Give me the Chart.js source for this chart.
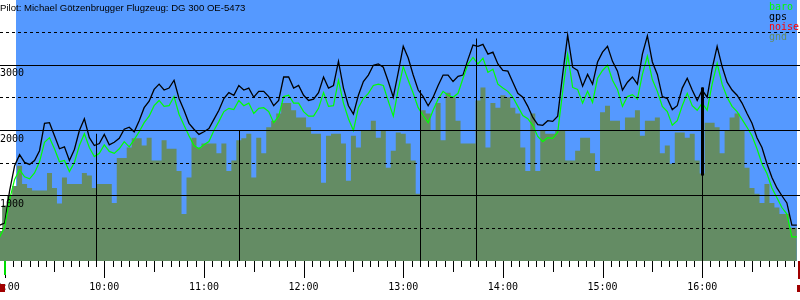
<!DOCTYPE html>
<html>
<head>
<meta charset="utf-8">
<script src="https://cdn.jsdelivr.net/npm/chart.js@4.4.0/dist/chart.umd.min.js"></script>
<style>
html, body { margin: 0; padding: 0; background: #fff; }
#wrap { width: 800px; height: 300px; }
</style>
</head>
<body>
<div id="wrap"><canvas id="flight" width="800" height="300"></canvas></div>
<script>
const title = 'Pilot: Michael Götzenbrugger Flugzeug: DG 300 OE-5473';

// one sample every 3 minutes, first one at 08:57
const sampleStart = '08:57';
const sampleStep = 3;

const gpsAlt = [
    550, 580, 1080, 1460, 1630, 1510, 1480, 1540, 1690, 2110,
    2120, 1920, 1720, 1750, 1540, 1710, 2000, 2180, 1890, 1770,
    1800, 1940, 1780, 1820, 1880, 2020, 2050, 1980, 2150, 2350,
    2450, 2630, 2710, 2620, 2650, 2770, 2490, 2310, 2110, 2020,
    1940, 1980, 2030, 2170, 2310, 2490, 2580, 2540, 2690, 2620,
    2650, 2510, 2600, 2600, 2520, 2380, 2460, 2820, 2820, 2650,
    2690, 2540, 2460, 2480, 2580, 2820, 2650, 2690, 3060, 2650,
    2380, 2250, 2540, 2750, 2850, 3000, 3020, 2970, 2750, 2510,
    2890, 3290, 3110, 2850, 2620, 2520, 2380, 2510, 2690, 2850,
    2850, 2750, 2830, 2850, 3090, 3310, 3290, 3320, 3170, 3200,
    3020, 2920, 2910, 2740, 2570, 2510, 2370, 2200, 2090, 2080,
    2150, 2140, 2220, 2860, 3460, 2970, 2920, 2680, 2860, 2710,
    3050, 3200, 3290, 3060, 2910, 2620, 2740, 2820, 2710, 3170,
    3450, 3050, 2860, 2520, 2490, 2320, 2380, 2650, 2800, 2620,
    2460, 2620, 2510, 2950, 3290, 2980, 2740, 2620, 2540, 2420,
    2260, 2110, 1890, 1740, 1490, 1280, 1120, 1000, 890, 550,
    550
];

const baroAlt = [
    370, 520, 940, 1250, 1400, 1290, 1260, 1350, 1520, 1820,
    1890, 1720, 1520, 1540, 1370, 1510, 1770, 1950, 1740, 1600,
    1650, 1780, 1680, 1650, 1720, 1830, 1750, 1860, 1980, 2120,
    2220, 2380, 2460, 2370, 2380, 2520, 2250, 2080, 1920, 1770,
    1720, 1780, 1830, 2000, 2140, 2290, 2340, 2320, 2460, 2380,
    2420, 2260, 2340, 2350, 2290, 2120, 2220, 2520, 2540, 2420,
    2420, 2290, 2220, 2220, 2340, 2580, 2370, 2380, 2770, 2420,
    2180, 2000, 2350, 2490, 2570, 2690, 2710, 2690, 2450, 2220,
    2630, 2980, 2770, 2570, 2350, 2230, 2120, 2310, 2480, 2600,
    2540, 2510, 2570, 2800, 3020, 3120, 3020, 3110, 2890, 2940,
    2710, 2650, 2600, 2510, 2370, 2230, 2180, 2080, 1910, 1830,
    1890, 1880, 1970, 2600, 3170, 2660, 2630, 2420, 2600, 2430,
    2800, 2920, 3000, 2770, 2630, 2370, 2520, 2550, 2480, 2860,
    3140, 2780, 2600, 2370, 2290, 2080, 2150, 2380, 2570, 2380,
    2310, 2420, 2310, 2710, 3030, 2710, 2510, 2370, 2290, 2170,
    2050, 1920, 1720, 1490, 1340, 1120, 970, 820, 720, 370,
    370
];

const gndAlt = [
    460, 850, 1000, 1150, 1460, 1180, 1120, 1080, 1080, 1080,
    1350, 1120, 880, 1280, 1180, 1180, 1180, 1350, 1310, 1120,
    1180, 1180, 1180, 890, 1580, 1580, 1740, 1880, 1880, 1770,
    1890, 1540, 1540, 1850, 1720, 1720, 1380, 720, 1280, 1890,
    1740, 1800, 1800, 1800, 1650, 1800, 1380, 1540, 1850, 1880,
    1950, 1280, 1890, 1650, 2050, 2150, 2260, 2420, 2420, 2310,
    2200, 2200, 2050, 1950, 1950, 1200, 1920, 1950, 1950, 1800,
    1230, 1920, 1740, 2000, 2000, 2150, 1890, 2000, 1430, 1690,
    1970, 1950, 1800, 1540, 1030, 2310, 2260, 2000, 2420, 1850,
    2580, 2510, 2150, 1800, 1800, 1800, 2460, 2660, 1740, 2420,
    2350, 2540, 2510, 2350, 2260, 1740, 1380, 2260, 1380, 2000,
    1950, 1950, 2000, 2000, 1540, 1540, 1690, 1890, 1890, 1650,
    1380, 2280, 2380, 2150, 2150, 2000, 2200, 2200, 2310, 1920,
    2150, 2150, 2200, 1650, 1770, 1490, 1970, 1970, 1890, 1950,
    1540, 1340, 2120, 2120, 2050, 1650, 2000, 2200, 2260, 2000,
    1430, 1120, 1030, 890, 1180, 890, 820, 720, 720, 510,
    510
];

const hourLabels = ['09:00', '10:00', '11:00', '12:00', '13:00', '14:00', '15:00', '16:00'];
const altLabels = [1000, 2000, 3000];

// vertical marks from the trace down to the ground
const markerTimes = ['09:55', '11:21', '13:10', '13:44', '16:00'];
const markerTops = [1950, 2000, 2620, 3410, 2660];
const markerThickTo = [null, null, null, null, 1310];

const skyStart = '09:07';
const skyEnd = '16:57';
const axisStart = 537.2;   // minutes after midnight at the left edge
const axisEnd = 1018.9;

const skyColor = '#5599ff';
const gndColor = '#648c64';

function toMin(s) {
    const p = s.split(':');
    return parseInt(p[0], 10) * 60 + parseInt(p[1], 10);
}

function toPoints(values) {
    const t0 = toMin(sampleStart);
    return values.map((v, i) => ({x: t0 + i * sampleStep, y: v}));
}

const skyPlugin = {
    id: 'sky',
    beforeDraw(chart) {
        const {ctx, chartArea, scales} = chart;
        ctx.save();
        ctx.fillStyle = '#fff';
        ctx.fillRect(0, 0, chart.width, chart.height);
        const x0 = Math.round(scales.x.getPixelForValue(toMin(skyStart)));
        const x1 = Math.round(scales.x.getPixelForValue(toMin(skyEnd)));
        ctx.fillStyle = skyColor;
        ctx.fillRect(x0, chartArea.top, x1 - x0, chartArea.bottom - chartArea.top);
        ctx.restore();
    }
};

const markerPlugin = {
    id: 'markers',
    afterDatasetsDraw(chart) {
        const {ctx, chartArea, scales} = chart;
        ctx.save();
        ctx.strokeStyle = '#000';
        markerTimes.forEach((t, i) => {
            const x = Math.round(scales.x.getPixelForValue(toMin(t))) + 0.5;
            ctx.lineWidth = 1;
            ctx.beginPath();
            ctx.moveTo(x, scales.y.getPixelForValue(markerTops[i]));
            ctx.lineTo(x, chartArea.bottom);
            ctx.stroke();
            if (markerThickTo[i] !== null) {
                ctx.lineWidth = 3;
                ctx.beginPath();
                ctx.moveTo(x, scales.y.getPixelForValue(markerTops[i]));
                ctx.lineTo(x, scales.y.getPixelForValue(markerThickTo[i]));
                ctx.stroke();
            }
        });
        ctx.restore();
    }
};

const timeAxisPlugin = {
    id: 'timeAxis',
    afterDraw(chart) {
        const {ctx, chartArea, scales} = chart;
        const bottom = chartArea.bottom;
        ctx.save();
        ctx.strokeStyle = '#000';
        ctx.lineWidth = 1;
        const first = Math.ceil(axisStart / 5) * 5;
        for (let m = first; m <= axisEnd; m += 5) {
            const x = Math.round(scales.x.getPixelForValue(m)) + 0.5;
            const len = m % 60 === 0 ? 17 : (m % 30 === 0 ? 11 : 6);
            ctx.beginPath();
            ctx.moveTo(x, bottom);
            ctx.lineTo(x, bottom + len);
            ctx.stroke();
        }
        ctx.fillStyle = '#000';
        ctx.font = '10px "DejaVu Sans Mono"';
        ctx.textAlign = 'center';
        ctx.textBaseline = 'alphabetic';
        hourLabels.forEach(h => {
            const x = scales.x.getPixelForValue(toMin(h));
            ctx.fillText(h, x, 290);
        });

        // start / end flags
        const xs = Math.round(scales.x.getPixelForValue(toMin(hourLabels[0])));
        ctx.fillStyle = '#00dd00';
        ctx.fillRect(xs - 1, bottom, 2, 14);
        ctx.fillStyle = '#a00000';
        ctx.fillRect(0, 284, 5, 8);
        ctx.fillRect(chartArea.right - 2, bottom, 2, 18);
        ctx.fillRect(chartArea.right - 3, 285, 3, 7);
        ctx.restore();
    }
};

const textPlugin = {
    id: 'texts',
    afterDraw(chart) {
        const {ctx, scales} = chart;
        ctx.save();
        ctx.textAlign = 'left';
        ctx.textBaseline = 'alphabetic';
        ctx.fillStyle = '#000';
        ctx.font = '9.6px "Liberation Sans"';
        ctx.fillText(title, 0, 11);

        ctx.font = '10px "DejaVu Sans Mono"';
        altLabels.forEach(v => {
            ctx.fillText(String(v), 0, Math.round(scales.y.getPixelForValue(v)) + 11);
        });

        chart.data.datasets.forEach((ds, i) => {
            ctx.fillStyle = ds.legendColor;
            ctx.fillText(ds.label, 769, 10 + i * 10);
        });
        ctx.restore();
    }
};

new Chart(document.getElementById('flight'), {
    type: 'line',
    data: {
        datasets: [
            {
                label: 'baro',
                data: toPoints(baroAlt),
                borderColor: '#00ff00',
                legendColor: '#00ff00',
                borderWidth: 1.2,
                pointRadius: 0,
                fill: false
            },
            {
                label: 'gps',
                data: toPoints(gpsAlt),
                borderColor: '#000000',
                legendColor: '#000000',
                borderWidth: 1.3,
                pointRadius: 0,
                fill: false
            },
            {
                label: 'noise',
                data: [],
                borderColor: '#ff0000',
                legendColor: '#ff0000',
                borderWidth: 1,
                pointRadius: 0,
                fill: false
            },
            {
                label: 'gnd',
                data: toPoints(gndAlt),
                borderColor: 'rgba(0,0,0,0)',
                backgroundColor: gndColor,
                legendColor: gndColor,
                borderWidth: 0,
                pointRadius: 0,
                stepped: 'middle',
                fill: 'origin'
            }
        ]
    },
    options: {
        responsive: false,
        animation: false,
        layout: {
            autoPadding: false,
            padding: {left: 0, right: 0, top: 0, bottom: 39}
        },
        plugins: {
            legend: {display: false},
            tooltip: {enabled: false},
            title: {display: false}
        },
        scales: {
            x: {
                type: 'linear',
                min: axisStart,
                max: axisEnd,
                display: false
            },
            y: {
                min: 0,
                max: 4000,
                ticks: {
                    stepSize: 500,
                    autoSkip: false,
                    display: false
                },
                grid: {
                    color: ctx => (ctx.tick && ctx.tick.value > 0 && ctx.tick.value < 4000) ? '#000' : 'rgba(0,0,0,0)',
                    lineWidth: 1,
                    drawTicks: false,
                    z: 1
                },
                border: {
                    display: false,
                    dash: ctx => (ctx.tick && ctx.tick.value % 1000 !== 0) ? [3, 3] : []
                }
            }
        }
    },
    plugins: [skyPlugin, markerPlugin, timeAxisPlugin, textPlugin]
});
</script>
</body>
</html>
